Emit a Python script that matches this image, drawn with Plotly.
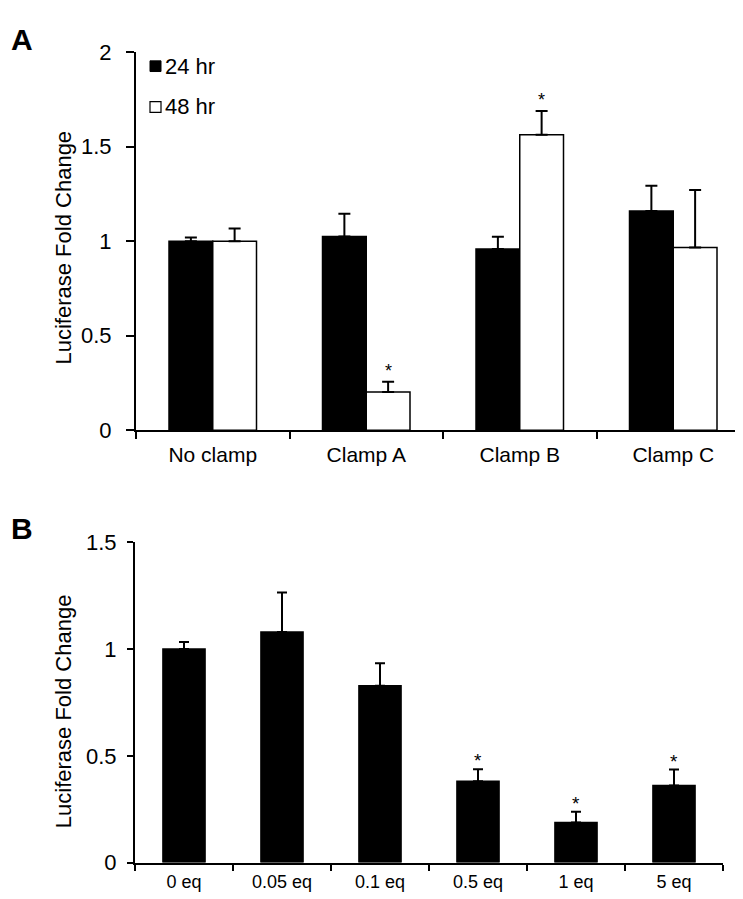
import plotly.graph_objects as go

W, H = 743, 899

# ---- Data ----
clamp_categories = ["No clamp", "Clamp A", "Clamp B", "Clamp C"]
fold_24hr = [1.00, 1.025, 0.958, 1.16]
err_24hr = [0.02, 0.12, 0.065, 0.133]
fold_48hr = [1.00, 0.203, 1.563, 0.967]
err_48hr = [0.067, 0.053, 0.125, 0.304]
sig_48hr = [False, True, True, False]

eq_categories = ["0 eq", "0.05 eq", "0.1 eq", "0.5 eq", "1 eq", "5 eq"]
fold_eq = [1.00, 1.08, 0.828, 0.381, 0.188, 0.361]
err_eq = [0.033, 0.185, 0.106, 0.056, 0.05, 0.075]
sig_eq = [False, False, False, True, True, True]

FONT = "Liberation Sans, Arial, sans-serif"


def px(x):
    return x / W


def py(y):
    return 1 - y / H


fig = go.Figure()

fig.add_trace(go.Bar(
    x=clamp_categories, y=fold_24hr, name="24 hr",
    marker=dict(color="black", line=dict(color="black", width=1.5)),
    error_y=dict(type="data", array=err_24hr, arrayminus=[0] * len(err_24hr),
                 symmetric=False, color="black", thickness=2, width=6),
    xaxis="x", yaxis="y", showlegend=False,
))
fig.add_trace(go.Bar(
    x=clamp_categories, y=fold_48hr, name="48 hr",
    marker=dict(color="white", line=dict(color="black", width=1.5)),
    error_y=dict(type="data", array=err_48hr, arrayminus=[0] * len(err_48hr),
                 symmetric=False, color="black", thickness=2, width=6),
    xaxis="x", yaxis="y", showlegend=False,
))
fig.add_trace(go.Bar(
    x=eq_categories, y=fold_eq, name="fold",
    marker=dict(color="black", line=dict(color="black", width=1.5)),
    error_y=dict(type="data", array=err_eq, arrayminus=[0] * len(err_eq),
                 symmetric=False, color="black", thickness=2, width=5),
    xaxis="x2", yaxis="y2", showlegend=False,
))

annotations = []
# significance stars, panel A (48 hr bars, offset right within group)
bargapA = 0.43
offA = (1 - bargapA) / 4
for i, s in enumerate(sig_48hr):
    if s:
        annotations.append(dict(
            x=i + offA, y=fold_48hr[i] + err_48hr[i], xref="x", yref="y",
            text="*", showarrow=False, yanchor="bottom", yshift=-1,
            font=dict(family=FONT, size=18, color="black")))
for i, s in enumerate(sig_eq):
    if s:
        annotations.append(dict(
            x=i, y=fold_eq[i] + err_eq[i], xref="x2", yref="y2",
            text="*", showarrow=False, yanchor="bottom", yshift=-4,
            font=dict(family=FONT, size=19, color="black")))

# panel letters
annotations.append(dict(x=px(1), y=py(20), xref="paper", yref="paper", text="<b>A</b>",
                        showarrow=False, xanchor="left", yanchor="middle",
                        font=dict(family=FONT, size=30, color="black")))
annotations.append(dict(x=px(1), y=py(523), xref="paper", yref="paper", text="<b>B</b>",
                        showarrow=False, xanchor="left", yanchor="middle",
                        font=dict(family=FONT, size=30, color="black")))

# y axis titles
annotations.append(dict(x=px(55), y=py(234), xref="paper", yref="paper",
                        text="Luciferase Fold Change", textangle=-90, showarrow=False,
                        xanchor="center", yanchor="middle",
                        font=dict(family=FONT, size=22, color="black")))
annotations.append(dict(x=px(55), y=py(711), xref="paper", yref="paper",
                        text="Luciferase Fold Change", textangle=-90, showarrow=False,
                        xanchor="center", yanchor="middle",
                        font=dict(family=FONT, size=22, color="black")))

# legend (manual, to match the original layout)
annotations.append(dict(x=px(155), y=py(47.5), xref="paper", yref="paper", text="24 hr",
                        showarrow=False, xanchor="left", yanchor="middle",
                        font=dict(family=FONT, size=22, color="black")))
annotations.append(dict(x=px(155), y=py(89), xref="paper", yref="paper", text="48 hr",
                        showarrow=False, xanchor="left", yanchor="middle",
                        font=dict(family=FONT, size=22, color="black")))
shapes = [
    dict(type="rect", xref="paper", yref="paper", x0=px(142), x1=px(153),
         y0=py(53), y1=py(42), fillcolor="black", line=dict(color="black", width=1)),
    dict(type="rect", xref="paper", yref="paper", x0=px(142), x1=px(153),
         y0=py(95), y1=py(84), fillcolor="white", line=dict(color="black", width=1.2)),
]

axis_common = dict(showline=True, linecolor="black", linewidth=2, showgrid=False,
                   zeroline=False, ticks="outside", tickcolor="black", tickwidth=1.5)

fig.update_layout(
    width=W, height=H,
    margin=dict(l=0, r=0, t=0, b=0),
    paper_bgcolor="white", plot_bgcolor="white",
    barmode="group", bargap=bargapA, bargroupgap=0,
    font=dict(family=FONT, color="black"),
    annotations=annotations, shapes=shapes,
    xaxis=dict(domain=[px(128), px(742)], anchor="y", type="category",
               tickson="boundaries", ticklen=7, ticklabelstandoff=5,
               tickfont=dict(family=FONT, size=21, color="black"), **axis_common),
    yaxis=dict(domain=[py(422), py(33)], anchor="x", range=[0, 2], tickvals=[0, 0.5, 1, 1.5, 2],
               ticktext=["0", "0.5", "1", "1.5", "2"], ticklen=8, ticklabelstandoff=10,
               tickfont=dict(family=FONT, size=22, color="black"), **axis_common),
    xaxis2=dict(domain=[px(127), px(715)], anchor="y2", type="category",
                tickson="boundaries", ticklen=6, ticklabelstandoff=2,
                tickfont=dict(family=FONT, size=18, color="black"), **axis_common),
    yaxis2=dict(domain=[py(866.7), py(537.3)], anchor="x2", range=[0, 1.5],
                tickvals=[0, 0.5, 1, 1.5], ticktext=["0", "0.5", "1", "1.5"],
                ticklen=6, ticklabelstandoff=6,
                tickfont=dict(family=FONT, size=22, color="black"), **axis_common),
)

# panel B uses a wider gap between its bars than panel A
fig.data[2].width = 1 - 0.57

fig.write_html("out.html")
